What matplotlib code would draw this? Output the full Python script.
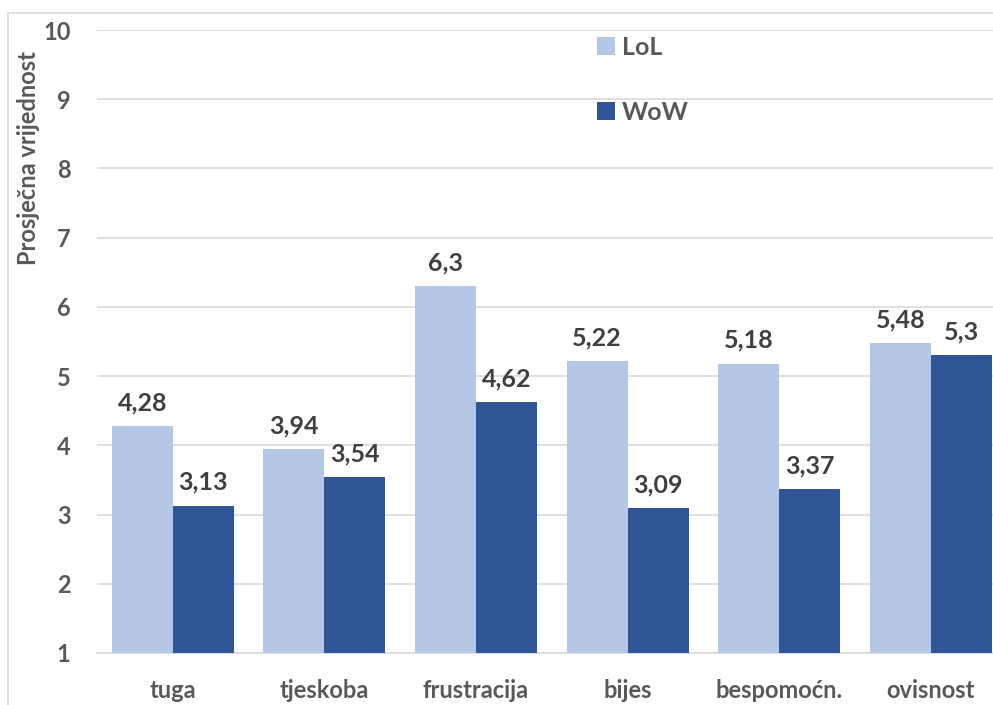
import matplotlib

matplotlib.use("Agg")

import matplotlib.pyplot as plt  # noqa: E402
import numpy as np  # noqa: E402
from matplotlib.patches import Rectangle  # noqa: E402

# Data
CATEGORIES = ["tuga", "tjeskoba", "frustracija", "bijes", "bespomoćn.", "ovisnost"]
LOL = [4.28, 3.94, 6.3, 5.22, 5.18, 5.48]
WOW = [3.13, 3.54, 4.62, 3.09, 3.37, 5.3]
LOL_LABELS = ["4,28", "3,94", "6,3", "5,22", "5,18", "5,48"]
WOW_LABELS = ["3,13", "3,54", "4,62", "3,09", "3,37", "5,3"]
Y_TICKS = [1, 2, 3, 4, 5, 6, 7, 8, 9, 10]

COLOR_LOL = "#b4c7e7"
COLOR_WOW = "#2f5597"
TEXT_GRAY = "#595959"
LABEL_GRAY = "#404040"
GRID_GRAY = "#d9d9d9"

plt.rcParams["font.family"] = ["Lato", "DejaVu Sans"]

fig = plt.figure(figsize=(9.93, 7.05), dpi=100)
W, H = 993, 705

# chart border (partially outside the image, like the reference)
fig.patches.append(
    Rectangle((8 / W, -0.05), 1.2, 1 - 13 / H + 0.05, transform=fig.transFigure,
              fill=False, edgecolor=GRID_GRAY, linewidth=1.2)
)

ax = fig.add_axes([97 / W, 52 / H, (993 - 97) / W, (653 - 30) / H])

x = np.arange(len(CATEGORIES))
width = 0.403
base = 1
lol_h = [v - base for v in LOL]
wow_h = [v - base for v in WOW]
b1 = ax.bar(x - width / 2, lol_h, width, bottom=base, color=COLOR_LOL, label="LoL", zorder=2)
b2 = ax.bar(x + width / 2, wow_h, width, bottom=base, color=COLOR_WOW, label="WoW", zorder=2)

for rects, labels in ((b1, LOL_LABELS), (b2, WOW_LABELS)):
    for rect, lab in zip(rects, labels):
        top = rect.get_y() + rect.get_height()
        ax.annotate(lab, (rect.get_x() + rect.get_width() / 2, top),
                    xytext=(0, 8.5), textcoords="offset points",
                    ha="center", va="bottom", fontsize=18, fontweight="bold",
                    color=LABEL_GRAY)

ax.set_xlim(-0.5, -0.5 + (993 - 97) / 151.6)
ax.set_ylim(1, 10)
ax.set_yticks(Y_TICKS)
ax.set_yticklabels([str(t) for t in Y_TICKS])
ax.set_xticks(x)
ax.set_xticklabels(CATEGORIES)
ax.tick_params(axis="both", length=0, labelsize=17, labelcolor=TEXT_GRAY)
ax.tick_params(axis="x", pad=19)
ax.tick_params(axis="y", pad=19)
for lab in ax.get_xticklabels() + ax.get_yticklabels():
    lab.set_fontweight("bold")

ax.grid(axis="y", color=GRID_GRAY, linewidth=1.2, zorder=0)
ax.set_axisbelow(True)
for side in ("top", "right", "left"):
    ax.spines[side].set_visible(False)
ax.spines["bottom"].set_color(GRID_GRAY)
ax.spines["bottom"].set_linewidth(1.2)
ax.spines["bottom"].set_zorder(1)

fig.text(29 / W, 1 - 158 / H, "Prosječna vrijednost", rotation=90,
         ha="center", va="center", fontsize=17, fontweight="bold", color=TEXT_GRAY)

leg = ax.legend(loc="upper left", bbox_to_anchor=((574 - 97) / (993 - 97), 1.027),
                frameon=False, handlelength=0.75, handleheight=0.75, handletextpad=0.25,
                labelspacing=1.68, prop={"size": 18, "weight": "bold"})
for t in leg.get_texts():
    t.set_color(TEXT_GRAY)

fig.savefig("out.png", dpi=100, facecolor="white")
